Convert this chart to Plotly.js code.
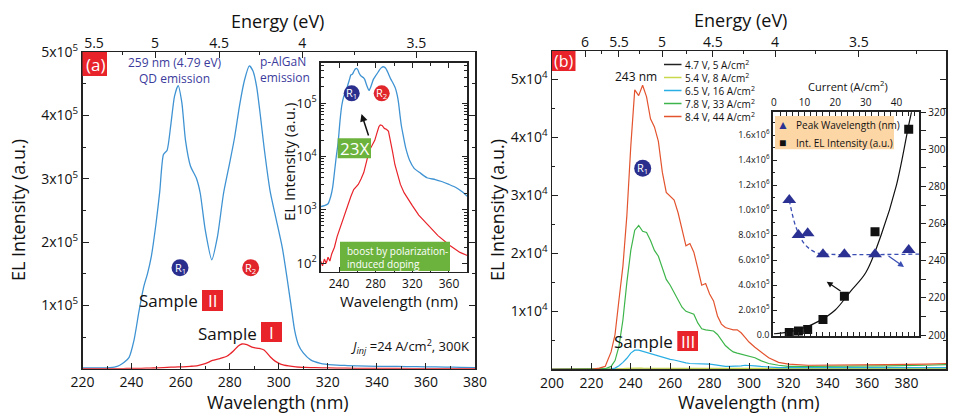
<!DOCTYPE html>
<html><head><meta charset="utf-8">
<script src="https://cdn.plot.ly/plotly-3.0.1.min.js"></script>
<style>html,body{margin:0;padding:0;background:#fff;}#c{width:956px;height:414px;}</style>
</head><body><div id="c"></div>
<script>
// ---------- Panel (a): EL spectra at 24 A/cm2 ----------
const wlII = [220,224,228,231,233,235,237,239,241,243,245,246.5,248,250,251.5,253,254.5,256,257.5,259,260.5,262,264,266.5,268,270,272.7,275,277.5,280,282,284,286,288,289.5,291,292.5,294,296.5,299,301.5,303.5,305,306.5,308,310,313,317,322,328,336,345,352,360,368,374,380];
const intII = [1150,1200,1300,1800,2600,5000,1.0e4,1.8e4,4.5e4,9e4,1.3e5,1.5e5,1.76e5,2.3e5,2.8e5,3.38e5,3.45e5,3.85e5,4.3e5,4.47e5,4.2e5,3.6e5,3.2e5,3.0e5,2.77e5,2.2e5,1.72e5,2.08e5,2.77e5,3.25e5,3.65e5,4.15e5,4.55e5,4.78e5,4.7e5,4.45e5,4.0e5,3.5e5,2.8e5,2.35e5,1.9e5,1.4e5,1.0e5,6.0e4,3.8e4,2.5e4,1.4e4,8.5e3,6e3,5e3,4e3,3.7e3,3.4e3,3.0e3,2.6e3,2.2e3,1.8e3];
const wlI = [220,222,224,226,228,230,232,235,238,242,246,249,253,256,259,261,264,267,270,273,276,279,281.5,283.5,285,287,289.5,292,294,296.5,298.5,301,304,307,311,315,320,327,336,348,361,372,380];
const intI = [110,90,120,100,130,110,150,200,320,520,800,1100,1800,2400,2800,3000,3800,5000,8000,1.3e4,1.6e4,2.0e4,2.8e4,3.6e4,3.9e4,3.8e4,3.35e4,3.2e4,2.95e4,1.9e4,1.2e4,7000,4500,3000,2100,1600,1200,800,540,330,215,160,140];
const tickA = ['1x10<sup>5</sup>','2x10<sup>5</sup>','3x10<sup>5</sup>','4x10<sup>5</sup>','5x10<sup>5</sup>'];
const energyA = ['5.5','5','4.5','4','3.5'];
const energyAPos = [224.7,249.6,275.7,309.6,356.1];
const insetTick = ['10<sup>2</sup>','10<sup>3</sup>','10<sup>4</sup>','10<sup>5</sup>'];

// ---------- Panel (b): EL spectra vs bias (intensity in units of 1e4) ----------
const wlB = [200,210,220,224,227,230,232,234,236,238,240,242,244,246,248,250,252,254,256,258,260,262,264,266,268,270,272,274,276,278,280,282,284,286,288,290,292,294,296,298,300,303,306,310,315,320,330,350,370,390,400];
const b5  = [0,0,0,0,0,0,0,0.002,0.003,0.004,0.005,0.005,0.005,0.005,0.005,0.004,0.004,0.004,0.003,0.003,0.003,0.003,0.003,0.003,0.003,0.003,0.003,0.003,0.003,0.003,0.003,0.003,0.003,0.003,0.003,0.003,0.003,0.003,0.003,0.003,0.003,0.003,0.003,0.003,0.003,0.003,0.003,0.003,0.003,0.003,0.003];
const b8  = [0,0,0,0,0,0,0.003,0.008,0.012,0.015,0.02,0.022,0.022,0.02,0.02,0.018,0.016,0.015,0.014,0.013,0.012,0.011,0.01,0.01,0.01,0.01,0.01,0.01,0.01,0.01,0.01,0.01,0.01,0.01,0.01,0.01,0.01,0.01,0.01,0.01,0.01,0.01,0.01,0.01,0.01,0.01,0.01,0.01,0.01,0.01,0.01];
const b16 = [0,0,0,0,0,0.005,0.02,0.06,0.12,0.19,0.28,0.33,0.33,0.31,0.28,0.26,0.24,0.22,0.2,0.18,0.17,0.16,0.14,0.12,0.11,0.1,0.1,0.09,0.09,0.09,0.09,0.08,0.07,0.05,0.05,0.05,0.05,0.05,0.06,0.07,0.07,0.06,0.05,0.04,0.03,0.03,0.03,0.03,0.03,0.03,0.03];
const b33 = [0,0,0,0,0.01,0.05,0.15,0.4,0.85,1.5,2.05,2.4,2.48,2.38,2.36,2.22,2.05,1.95,1.75,1.55,1.45,1.33,1.2,1.07,1.0,0.97,0.95,0.8,0.7,0.68,0.67,0.66,0.6,0.5,0.41,0.35,0.3,0.28,0.26,0.24,0.22,0.2,0.15,0.1,0.07,0.05,0.05,0.05,0.06,0.07,0.08];
const b44 = [0,0,0,0.02,0.05,0.3,0.6,1.2,1.78,2.65,3.85,4.82,4.72,4.9,4.7,4.32,4.18,3.93,3.4,3.05,2.98,2.92,2.7,2.42,2.13,2.17,2.02,1.74,1.45,1.48,1.3,1.18,0.92,0.78,0.72,0.7,0.68,0.68,0.63,0.55,0.47,0.38,0.3,0.2,0.12,0.09,0.07,0.07,0.08,0.09,0.1];
const seriesB = ['4.7 V, 5 A/cm<sup>2</sup>','5.4 V, 8 A/cm<sup>2</sup>','6.5 V, 16 A/cm<sup>2</sup>','7.8 V, 33 A/cm<sup>2</sup>','8.4 V, 44 A/cm<sup>2</sup>'];
const colorsB = ['#222222','#c9d84a','#2aaee4','#3db54a','#e3532e'];
const tickB = ['1x10<sup>4</sup>','2x10<sup>4</sup>','3x10<sup>4</sup>','4x10<sup>4</sup>','5x10<sup>4</sup>'];
const energyB = ['6','5.5','5','4.5','4','3.5'];
const energyBPos = [216.8,234,255.9,281.7,313.2,355.8];

// ---------- Panel (b) inset ----------
const current = [5,8,11,16,23,33,44];
const peakWl = [272.7,253.9,254.8,243.6,243.6,243.6,245.8];
const intEL = [2.0e4,3.2e4,4.5e4,1.25e5,3.1e5,8.26e5,1.646e6];
const fitCurrent = [0,5,10,15,20,25,30,35,40,44,45.5];
const fitEL = [1e4,2.5e4,6e4,1.15e5,2.0e5,3.5e5,5.0e5,8.0e5,1.2e6,1.68e6,1.85e6];
const guideCurrent = [5,6,7,8.5,10,12,14,17,47.5];
const guideWl = [272.7,265,259,253,249,246,244.3,243.6,243.6];
const insetBTickText = ['0.0','2.0x10<sup>5</sup>','4.0x10<sup>5</sup>','6.0x10<sup>5</sup>','8.0x10<sup>5</sup>','1.0x10<sup>6</sup>','1.2x10<sup>6</sup>','1.4x10<sup>6</sup>','1.6x10<sup>6</sup>'];
const insetBTickVals = [0,2e5,4e5,6e5,8e5,1e6,1.2e6,1.4e6,1.6e6];

// ---------- helpers ----------
const W=956,H=414;
const PX=x=>x/W, PY=y=>1-y/H;
const FONT='"Open Sans", sans-serif';
const BLUE='#3f93d3', RED='#e8232a', NAVY='#3b3b9c', GREEN='#6cb33e';

const traces=[
 {x:wlII,y:intII,xaxis:'x',yaxis:'y',mode:'lines',line:{color:BLUE,width:1.3,shape:'spline',smoothing:0.6}},
 {x:wlI,y:intI,xaxis:'x',yaxis:'y',mode:'lines',line:{color:RED,width:1.3,shape:'spline',smoothing:0.6}},
 {x:[null],y:[null],xaxis:'x2',yaxis:'y',mode:'lines',hoverinfo:'skip'},
 {x:wlII,y:intII,xaxis:'x3',yaxis:'y3',mode:'lines',line:{color:BLUE,width:1.3,shape:'spline',smoothing:0.6}},
 {x:wlI,y:intI,xaxis:'x3',yaxis:'y3',mode:'lines',line:{color:RED,width:1.2}},
];
const bSeries=[b5,b8,b16,b33,b44];
bSeries.forEach((s,i)=>traces.push({x:wlB,y:s,xaxis:'x4',yaxis:'y4',mode:'lines',name:seriesB[i],line:{color:colorsB[i],width:1.2}}));
traces.push({x:[null],y:[null],xaxis:'x5',yaxis:'y4',mode:'lines',hoverinfo:'skip'});
traces.push({x:fitCurrent,y:fitEL,xaxis:'x6',yaxis:'y6',mode:'lines',line:{color:'#111',width:1.2,shape:'spline'}});
traces.push({x:current,y:intEL,xaxis:'x6',yaxis:'y6',mode:'markers',marker:{symbol:'square',size:9,color:'#111'}});
traces.push({x:guideCurrent,y:guideWl,xaxis:'x6',yaxis:'y7',mode:'lines',line:{color:'#3a4db3',width:1.3,dash:'4px,3px',shape:'spline'}});
traces.push({x:current,y:peakWl,xaxis:'x6',yaxis:'y7',mode:'markers',marker:{symbol:'triangle-up',size:12,color:'#2b3192'}});

const ax = (o)=>Object.assign({showgrid:false,zeroline:false,showline:true,linecolor:'#222',linewidth:1.5,ticks:'inside',ticklen:6,tickwidth:1,tickcolor:'#222',tickfont:{size:14,family:FONT,color:'#111'},fixedrange:true},o);

const anns=[];
function T(text,x,y,o){anns.push(Object.assign({text:text,x:PX(x),y:PY(y),xref:'paper',yref:'paper',showarrow:false,xanchor:'center',yanchor:'middle',font:{family:FONT,size:14,color:'#111'}},o||{}));}
const shapes=[];
function R(x0,y0,x1,y1,c){shapes.push({type:'rect',xref:'paper',yref:'paper',x0:PX(x0),x1:PX(x1),y0:PY(y1),y1:PY(y0),fillcolor:c,line:{width:0},layer:'above'});}
function C(cx,cy,r,c,label){shapes.push({type:'circle',xref:'paper',yref:'paper',x0:PX(cx-r),x1:PX(cx+r),y0:PY(cy+r),y1:PY(cy-r),fillcolor:c,line:{width:0},layer:'above'});
 T(label,cx,cy,{font:{family:FONT,size:11,color:'#fff'}});}
function L(x0,y0,x1,y1,c){shapes.push({type:'line',xref:'paper',yref:'paper',x0:PX(x0),x1:PX(x1),y0:PY(y0),y1:PY(y1),line:{color:c,width:1.5},layer:'above'});}

// axis titles
T('Wavelength (nm)',278,402,{font:{family:FONT,size:18,color:'#111'}});
T('EL Intensity (a.u.)',18,210,{textangle:-90,font:{family:FONT,size:18,color:'#111'}});
T('Energy (eV)',277,21,{font:{family:FONT,size:18,color:'#111'}});
T('EL Intensity (a.u.)',289,162,{textangle:-90,font:{family:FONT,size:15,color:'#111'}});
T('Wavelength (nm)',399,301,{font:{family:FONT,size:15,color:'#111'}});
T('Wavelength (nm)',749,402,{font:{family:FONT,size:18,color:'#111'}});
T('EL Intensity (a.u.)',497,210,{textangle:-90,font:{family:FONT,size:18,color:'#111'}});
T('Energy (eV)',740,20,{font:{family:FONT,size:18,color:'#111'}});
T('Current (A/cm<sup>2</sup>)',848,86,{font:{family:FONT,size:11,color:'#111'}});

// panel labels
R(82.5,52,107,76,RED); T('(a)',95,64,{font:{family:FONT,size:17,color:'#fff'}});
R(552,51,575.5,71,RED); T('(b)',564,61,{font:{family:FONT,size:16,color:'#fff'}});

// panel (a) annotations
T('259 nm (4.79 eV)<br>QD emission',174.5,70.5,{font:{family:FONT,size:12,color:NAVY}});
T('p-AlGaN<br>emission',258,69.5,{xanchor:'left',align:'left',font:{family:FONT,size:12,color:NAVY}});
C(180,267.7,8.5,'#2a2f8e','R<sub>1</sub>');
C(250.7,267.7,8.5,'#e0252b','R<sub>2</sub>');
T('Sample',200,300,{xanchor:'right',font:{family:FONT,size:17,color:'#111'}});
R(202,290,223,311,RED); T('II',212.5,300.5,{font:{family:FONT,size:17,color:'#fff'}});
T('Sample',259,333,{xanchor:'right',font:{family:FONT,size:17,color:'#111'}});
R(261,322,282,342,RED); T('I',271.5,332,{font:{family:FONT,size:17,color:'#fff'}});
T('<i>J</i><sub><i>inj</i></sub> =24 A/cm<sup>2</sup>, 300K',471,346,{xanchor:'right',font:{family:FONT,size:13,color:'#111'}});
// inset (a)
C(351.7,93.3,8,'#2a2f8e','R<sub>1</sub>');
C(381.7,93.3,8,'#e0252b','R<sub>2</sub>');
R(337.7,138.3,371,158.3,GREEN); T('23X',354.3,148.3,{font:{family:FONT,size:17,color:'#fff'}});
anns.push({text:'',x:PX(361.5),y:PY(114),xref:'paper',yref:'paper',ax:PX(369),ay:PY(137),axref:'paper',ayref:'paper',showarrow:true,arrowhead:2,arrowsize:1,arrowwidth:1.5,arrowcolor:'#111'});
R(340,241.7,450,271,GREEN);
T('boost by polarization-<br>induced doping',345,257.5,{xanchor:'left',align:'left',font:{family:FONT,size:10,color:'#fff'}});

// panel (b) annotations
T('243 nm',636,76,{font:{family:FONT,size:12,color:'#111'}});
const legY=[64.5,77.5,90.5,103.5,116.5];
seriesB.forEach((s,i)=>L(664,legY[i],681.5,legY[i],colorsB[i]));
T(seriesB.join('<br>'),682.5,91,{xanchor:'left',align:'left',font:{family:FONT,size:10,color:'#111'}});
C(642.7,168.3,8.5,'#2a2f8e','R<sub>1</sub>');
T('Sample',675,341.7,{xanchor:'right',font:{family:FONT,size:17,color:'#111'}});
R(677.3,331,698,351,RED); T('III',687.7,341,{font:{family:FONT,size:17,color:'#fff'}});
// inset (b) legend
R(775,116,894,149.3,'#fdd6a6');
T('\u25B2',782.5,124,{font:{family:FONT,size:12,color:'#2b3192'}});
T('\u25A0',782.5,142,{font:{family:FONT,size:12,color:'#111'}});
T('Peak Wavelength (nm)',794,124.5,{xanchor:'left',font:{family:FONT,size:10,color:'#111'}});
T('Int. EL Intensity (a.u.)',794,142.5,{xanchor:'left',font:{family:FONT,size:10,color:'#111'}});
anns.push({text:'',x:PX(826.7),y:PY(281.7),xref:'paper',yref:'paper',ax:PX(842),ay:PY(292),axref:'paper',ayref:'paper',showarrow:true,arrowhead:2,arrowsize:1,arrowwidth:1.2,arrowcolor:'#111'});
anns.push({text:'',x:PX(904),y:PY(267),xref:'paper',yref:'paper',ax:PX(887),ay:PY(255),axref:'paper',ayref:'paper',showarrow:true,arrowhead:2,arrowsize:1,arrowwidth:1.2,arrowcolor:'#3a4db3'});

const layout={
 width:W,height:H,margin:{l:0,r:0,t:0,b:0},paper_bgcolor:'#fff',plot_bgcolor:'rgba(0,0,0,0)',showlegend:false,
 font:{family:FONT,color:'#111',size:14},
 xaxis:ax({domain:[PX(82.5),PX(475)],range:[220,380],anchor:'y',dtick:20,tick0:0,mirror:true,minor:{ticks:'inside',ticklen:3,dtick:10,tick0:0,tickcolor:'#222'}}),
 yaxis:ax({domain:[PY(368.7),PY(52)],range:[0,5e5],anchor:'x',tickmode:'array',tickvals:[1e5,2e5,3e5,4e5,5e5],ticktext:tickA,mirror:'ticks',minor:{ticks:'inside',ticklen:3,tickmode:'array',tickvals:[0.5e5,1.5e5,2.5e5,3.5e5,4.5e5],tickcolor:'#222'}}),
 xaxis2:ax({overlaying:'x',anchor:'y',side:'top',range:[220,380],showline:false,tickmode:'array',tickvals:energyAPos,ticktext:energyA,minor:{ticks:'inside',ticklen:3,tickmode:'array',tickvals:[236.5,262,292,331],tickcolor:'#222'}}),
 xaxis3:ax({domain:[PX(320.7),PX(467.3)],range:[220,380],anchor:'y3',dtick:40,tick0:0,ticklen:5,mirror:'allticks',tickfont:{size:12,family:FONT,color:'#111'},minor:{ticks:'inside',ticklen:3,dtick:20,tick0:0,tickcolor:'#222'}}),
 yaxis3:ax({domain:[PY(271.7),PY(62.7)],type:'log',range:[1.843,5.755],anchor:'x3',tickmode:'array',tickvals:[100,1000,1e4,1e5],ticktext:insetTick,ticklen:5,mirror:'allticks',tickfont:{size:13,family:FONT,color:'#111'},minor:{ticks:'inside',ticklen:3,tickmode:'array',tickvals:[200,300,400,500,600,700,800,900,2000,3000,4000,5000,6000,7000,8000,9000,2e4,3e4,4e4,5e4,6e4,7e4,8e4,9e4,2e5,3e5,4e5,5e5],tickcolor:'#222'}}),
 xaxis4:ax({domain:[PX(552),PX(946)],range:[200,400],anchor:'y4',dtick:20,tick0:0,mirror:true,minor:{ticks:'inside',ticklen:3,dtick:10,tick0:0,tickcolor:'#222'}}),
 yaxis4:ax({domain:[PY(369.3),PY(51)],range:[0,5.49],anchor:'x4',tickmode:'array',tickvals:[1,2,3,4,5],ticktext:tickB,mirror:'ticks',minor:{ticks:'inside',ticklen:3,tickmode:'array',tickvals:[0.5,1.5,2.5,3.5,4.5],tickcolor:'#222'}}),
 xaxis5:ax({overlaying:'x4',anchor:'y4',side:'top',range:[200,400],showline:false,tickmode:'array',tickvals:energyBPos,ticktext:energyB,minor:{ticks:'inside',ticklen:3,tickmode:'array',tickvals:[225,244.5,268.5,297,334,385],tickcolor:'#222'}}),
 xaxis6:ax({domain:[PX(773.3),PX(919.3)],range:[-0.22,47.46],anchor:'y6',side:'top',dtick:10,tick0:0,ticklen:4,linewidth:2,mirror:'allticks',tickfont:{size:10,family:FONT,color:'#111'},minor:{ticks:'inside',ticklen:2,dtick:2,tick0:0,tickcolor:'#222'}}),
 yaxis6:ax({domain:[PY(336),PY(112.3)],range:[-8e3,1.782e6],anchor:'x6',tickmode:'array',tickvals:insetBTickVals,ticktext:insetBTickText,ticklen:4,linewidth:2,tickfont:{size:9,family:FONT,color:'#111'},minor:{ticks:'inside',ticklen:2,tickmode:'array',tickvals:[1e5,3e5,5e5,7e5,9e5,1.1e6,1.3e6,1.5e6,1.7e6],tickcolor:'#222'}}),
 yaxis7:ax({overlaying:'y6',anchor:'x6',side:'right',range:[199.5,320],dtick:20,tick0:0,ticks:'outside',ticklen:5,linewidth:2,tickfont:{size:10,family:FONT,color:'#111'},minor:{ticks:'outside',ticklen:5,dtick:10,tick0:0,tickcolor:'#222'}}),
 annotations:anns,shapes:shapes
};
Plotly.newPlot('c',traces,layout,{staticPlot:true,displayModeBar:false});
</script></body></html>
